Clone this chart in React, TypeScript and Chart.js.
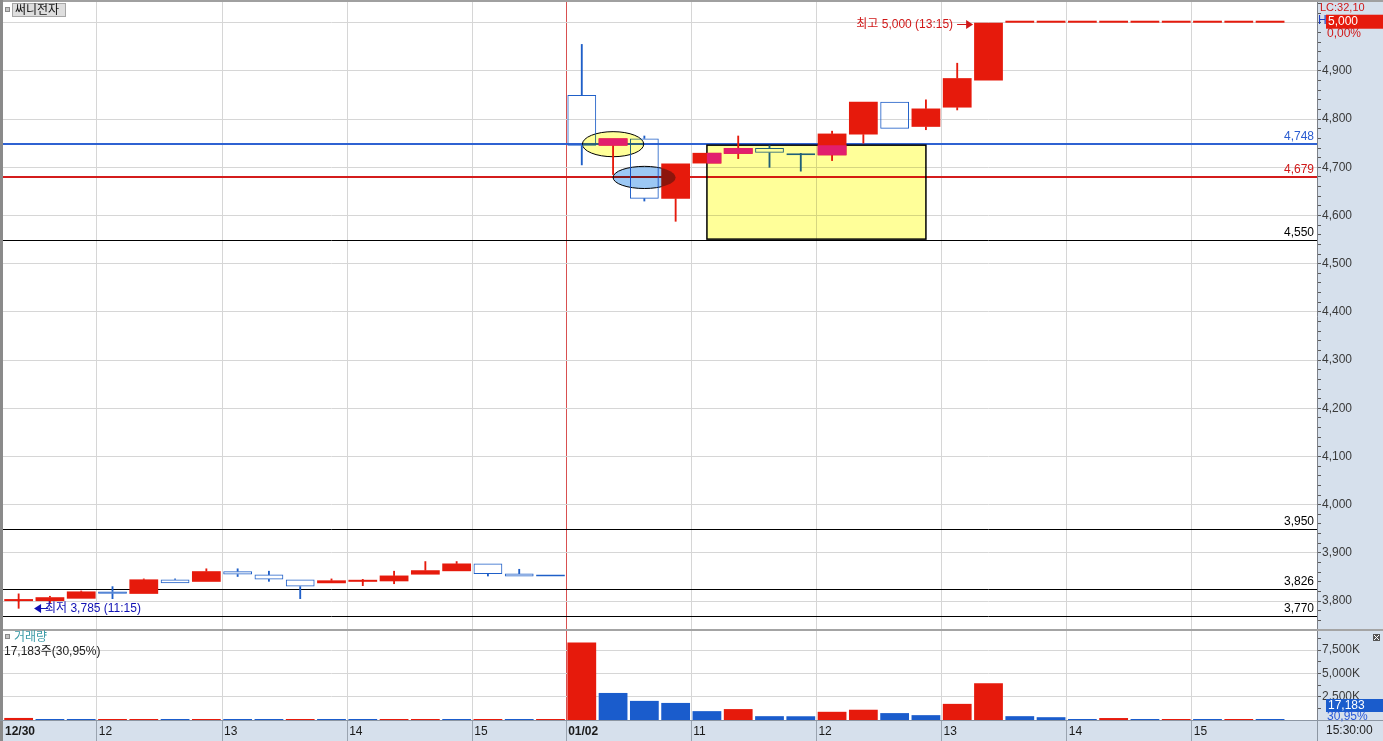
import React, { useEffect, useRef } from 'react';
import { Chart, registerables } from 'chart.js';

Chart.register(...registerables);

const W = 1383;
const H = 741;

// ---------- data ----------
const timeLabels = [
  '12/30 11:15', '12/30 11:30', '12/30 11:45', '12/30 12:00', '12/30 12:15', '12/30 12:30',
  '12/30 12:45', '12/30 13:00', '12/30 13:15', '12/30 13:30', '12/30 13:45', '12/30 14:00',
  '12/30 14:15', '12/30 14:30', '12/30 14:45', '12/30 15:00', '12/30 15:15', '12/30 15:30',
  '01/02 10:00', '01/02 10:15', '01/02 10:30', '01/02 10:45', '01/02 11:00', '01/02 11:15',
  '01/02 11:30', '01/02 11:45', '01/02 12:00', '01/02 12:15', '01/02 12:30', '01/02 12:45',
  '01/02 13:00', '01/02 13:15', '01/02 13:30', '01/02 13:45', '01/02 14:00', '01/02 14:15',
  '01/02 14:30', '01/02 14:45', '01/02 15:00', '01/02 15:15', '01/02 15:30', ' ',
];

const axisLabels = [
  '12/30', '', '', '12', '', '', '', '13', '', '', '', '14', '', '', '', '15', '', '',
  '01/02', '', '', '', '11', '', '', '', '12', '', '', '', '13', '', '', '', '14', '', '', '', '15', '', '', '',
];

const opens = [
  3800, 3800, 3805, 3820, 3815, 3845, 3840, 3862, 3855, 3845, 3837, 3840, 3841, 3855, 3862, 3878, 3857, 3851,
  4850, 4745, 4760, 4635, 4708, 4728, 4740, 4728, 4725, 4768, 4836, 4784, 4824, 4880,
  5000, 5000, 5000, 5000, 5000, 5000, 5000, 5000, 5000, null,
];
const highs = [
  3815, 3810, 3821, 3830, 3846, 3846, 3867, 3867, 3862, 3845, 3846, 3845, 3862, 3882, 3882, 3878, 3866, 3851,
  4955, 4760, 4765, 4708, 4730, 4765, 4745, 4729, 4775, 4836, 4836, 4840, 4916, 5000,
  5000, 5000, 5000, 5000, 5000, 5000, 5000, 5000, 5000, null,
];
const lows = [
  3785, 3795, 3805, 3805, 3815, 3837, 3840, 3851, 3841, 3805, 3837, 3832, 3836, 3855, 3862, 3852, 3851, 3851,
  4705, 4685, 4630, 4588, 4708, 4718, 4700, 4692, 4714, 4750, 4780, 4778, 4819, 4880,
  5000, 5000, 5000, 5000, 5000, 5000, 5000, 5000, 5000, null,
];
const closes = [
  3800, 3808, 3820, 3815, 3845, 3837, 3862, 3855, 3845, 3830, 3843, 3840, 3853, 3864, 3878, 3856, 3851, 3851,
  4745, 4760, 4635, 4708, 4730, 4740, 4730, 4725, 4770, 4836, 4780, 4822, 4885, 5000,
  5000, 5000, 5000, 5000, 5000, 5000, 5000, 5000, 5000, null,
];
// candle colour: u = red (rising), d = blue (falling)
const candleSides = [
  'u', 'u', 'u', 'd', 'u', 'd', 'u', 'd', 'd', 'd', 'u', 'u', 'u', 'u', 'u', 'd', 'd', 'd',
  'd', 'u', 'd', 'u', 'u', 'u', 'd', 'd', 'u', 'u', 'd', 'u', 'u', 'u',
  'u', 'u', 'u', 'u', 'u', 'u', 'u', 'u', 'u', '',
];

// volume in thousands of shares (K)
const volumes = [
  220, 60, 60, 60, 60, 60, 60, 60, 60, 60, 60, 50, 60, 60, 60, 60, 60, 60,
  8300, 2900, 2050, 1830, 950, 1170, 410, 400, 880, 1100, 740, 520, 1730, 3930,
  410, 300, 110, 210, 110, 110, 100, 110, 17.183, null,
];
const volumeSides = [
  'u', 'd', 'd', 'u', 'u', 'd', 'u', 'd', 'd', 'u', 'd', 'd', 'u', 'u', 'd', 'u', 'd', 'u',
  'u', 'd', 'd', 'd', 'd', 'u', 'd', 'd', 'u', 'u', 'd', 'd', 'u', 'u',
  'd', 'd', 'd', 'u', 'd', 'u', 'd', 'u', 'd', '',
];
const volumeTicks = [1250, 2500, 3750, 5000, 6250, 7500, 8750];
const volumeTickLabels = ['', '2,500K', '', '5,000K', '', '7,500K', ''];

const levelValues = [4748, 4679, 4550, 3950, 3826, 3770];
const levelLabels = ['4,748', '4,679', '4,550', '3,950', '3,826', '3,770'];
const levelKinds = ['blue', 'red', 'black', 'black', 'black', 'black'];

const priceMin = 3740;
const priceMax = 5043;
const volumeMax = 9650;

const boxNote = { fromIndex: 22, toIndex: 29, top: 4746, bottom: 4551 };
const yellowOval = { index: 19, value: 4748, halfSlots: 0.98, halfPrice: 26 };
const blueOval = { index: 20, value: 4679, halfSlots: 1.0, halfPrice: 23 };
const highNote = { index: 31, value: 5000, text: '최고 5,000 (13:15)' };
const lowNote = { index: 0, value: 3785, text: '최저 3,785 (11:15)' };

const stockName = '써니전자';
const volumeTitle = '거래량';
const volumeInfo = '17,183주(30,95%)';
const lastPriceText = '5,000';
const lastPriceValue = 5000;
const lcText = 'LC:32,10';
const changeText = '0,00%';
const lastVolumeText = '17,183';
const volumeRatioText = '30,95%';
const endTimeText = '15:30:00';

// ---------- styles ----------
const FONT = "'Liberation Sans', 'Noto Sans CJK KR', sans-serif";
const f = (size: number, weight = 'normal') => `${weight} ${size}px ${FONT}`;
const RED = '#e61a0c';
const CANDLE_BLUE = '#1f5fc8';
const VOL_BLUE = '#1a5ccc';
const PINK = '#e21e6e';
const AXIS_BG = '#d6e0ec';
const GRID = '#d6d6d6';
const LEVEL_COLORS: Record<string, string> = { blue: '#2f62d2', red: '#d41c1c', black: '#000000' };
const LEVEL_TEXT: Record<string, string> = { blue: '#2a5cd0', red: '#d01818', black: '#000000' };
const dayStartIndex = axisLabels.findIndex((l, i) => i > 0 && l.includes('/'));

// ---------- derived tables ----------
const bodyData = opens.map((o, i) => (o == null ? null : [o, closes[i] as number]));
const upperWick = opens.map((o, i) => {
  if (o == null) return null;
  const top = Math.max(o, closes[i] as number);
  return (highs[i] as number) > top ? [top, highs[i] as number] : null;
});
const lowerWick = opens.map((o, i) => {
  if (o == null) return null;
  const bot = Math.min(o, closes[i] as number);
  return (lows[i] as number) < bot ? [lows[i] as number, bot] : null;
});
const sideColor = (s: string) => (s === 'u' ? RED : CANDLE_BLUE);

function ovalPath(ctx: CanvasRenderingContext2D, chart: any, o: any) {
  const x = chart.scales.x, y = chart.scales.y;
  const cx = x.getPixelForValue(o.index);
  const slot = x.getPixelForValue(o.index + 1) - cx;
  const cy = y.getPixelForValue(o.value);
  const ry = Math.abs(y.getPixelForValue(o.value + o.halfPrice) - cy);
  ctx.ellipse(cx, cy, slot * o.halfSlots, ry, 0, 0, Math.PI * 2);
}
function boxRect(chart: any) {
  const x = chart.scales.x, y = chart.scales.y;
  const x1 = x.getPixelForValue(boxNote.fromIndex);
  const x2 = x.getPixelForValue(boxNote.toIndex);
  const y1 = y.getPixelForValue(boxNote.top);
  const y2 = y.getPixelForValue(boxNote.bottom);
  return { x: x1, y: y1, w: x2 - x1, h: y2 - y1 };
}

const overlay = {
  id: 'overlay',
  beforeDraw(chart: any) {
    const { ctx, chartArea: a } = chart;
    ctx.save();
    ctx.fillStyle = '#ffffff';
    ctx.fillRect(0, 0, W, H);
    ctx.fillStyle = AXIS_BG;
    ctx.fillRect(a.right, 0, W - a.right, H);
    ctx.fillRect(0, a.bottom, W, H - a.bottom);
    ctx.restore();
  },
  beforeDatasetsDraw(chart: any) {
    const { ctx, chartArea: a } = chart;
    const y = chart.scales.y;
    ctx.save();
    ctx.beginPath();
    ctx.rect(a.left, y.top, a.right - a.left, y.bottom - y.top);
    ctx.clip();
    levelValues.forEach((v, i) => {
      const py = Math.round(y.getPixelForValue(v));
      const kind = levelKinds[i];
      const lw = kind === 'black' ? 1 : 2;
      ctx.strokeStyle = LEVEL_COLORS[kind];
      ctx.lineWidth = lw;
      ctx.beginPath();
      const yy = lw === 1 ? py + 0.5 : py;
      ctx.moveTo(a.left, yy);
      ctx.lineTo(a.right, yy);
      ctx.stroke();
      ctx.fillStyle = LEVEL_TEXT[kind];
      ctx.font = f(12);
      ctx.textAlign = 'right';
      ctx.textBaseline = 'bottom';
      ctx.fillText(levelLabels[i], a.right - 3, py - 1);
    });
    ctx.strokeStyle = '#000';
    const r = boxRect(chart);
    ctx.lineWidth = 1.5;
    ctx.strokeRect(r.x, r.y, r.w, r.h);
    ctx.lineWidth = 1;
    ctx.beginPath(); ovalPath(ctx, chart, yellowOval); ctx.stroke();
    ctx.beginPath(); ovalPath(ctx, chart, blueOval); ctx.stroke();
    ctx.restore();
  },
  afterDatasetsDraw(chart: any) {
    const { ctx } = chart;
    const r = boxRect(chart);
    ctx.save();
    ctx.globalCompositeOperation = 'multiply';
    ctx.fillStyle = '#ffff99';
    ctx.fillRect(r.x, r.y, r.w, r.h);
    ctx.beginPath(); ovalPath(ctx, chart, yellowOval); ctx.fill();
    ctx.fillStyle = '#9cc8f4';
    ctx.beginPath(); ovalPath(ctx, chart, blueOval); ctx.fill();
    ctx.restore();
    // red bodies seen inside the yellow marks turn pink
    const meta = chart.getDatasetMeta(0);
    ctx.save();
    ctx.beginPath();
    ctx.rect(r.x, r.y, r.w, r.h);
    ovalPath(ctx, chart, yellowOval);
    ctx.clip();
    ctx.fillStyle = PINK;
    meta.data.forEach((el: any, i: number) => {
      if (candleSides[i] !== 'u' || bodyData[i] == null) return;
      const p = el.getProps(['x', 'y', 'base', 'width'], true);
      const top = Math.min(p.y, p.base);
      const h = Math.abs(p.base - p.y);
      ctx.fillRect(p.x - p.width / 2, top, p.width, h);
    });
    ctx.restore();
  },
  afterDraw(chart: any) {
    const { ctx, chartArea: a } = chart;
    const y = chart.scales.y, v = chart.scales.yv;
    ctx.save();
    // pane separator
    ctx.fillStyle = '#a4a4a4';
    ctx.fillRect(0, Math.round(v.top) - 1, W, 2);
    // frame
    ctx.fillStyle = '#a0a0a0';
    ctx.fillRect(0, 0, W, 2);
    ctx.fillStyle = '#8a8a8a';
    ctx.fillRect(0, 0, 3, H);
    ctx.fillStyle = '#8c96a2';
    ctx.fillRect(a.right, a.bottom, 1, H - a.bottom);
    ctx.fillRect(0, a.bottom, W, 1);

    // title box
    ctx.fillStyle = '#c4c4c4';
    ctx.fillRect(5, 7, 5, 5);
    ctx.strokeStyle = '#8a8a8a';
    ctx.lineWidth = 1;
    ctx.strokeRect(5.5, 7.5, 4, 4);
    ctx.fillStyle = '#dedede';
    ctx.fillRect(12, 3, 54, 14);
    ctx.strokeStyle = '#a6a6a6';
    ctx.strokeRect(12.5, 3.5, 53, 13);
    ctx.fillStyle = '#111';
    ctx.font = f(12);
    ctx.textAlign = 'left';
    ctx.textBaseline = 'middle';
    ctx.fillText(stockName, 15, 10.5);

    // volume pane titles
    const vt = v.top;
    ctx.fillStyle = '#c4c4c4';
    ctx.fillRect(5, vt + 4, 5, 5);
    ctx.strokeStyle = '#8a8a8a';
    ctx.strokeRect(5.5, vt + 4.5, 4, 4);
    ctx.fillStyle = '#3a9aa6';
    ctx.fillText(volumeTitle, 14, vt + 8);
    ctx.fillStyle = '#222';
    ctx.fillText(volumeInfo, 4, vt + 22);

    // right axis boxes (price)
    ctx.font = f(11);
    ctx.fillStyle = '#d01818';
    ctx.fillText(lcText, a.right + 3, 8);
    ctx.fillStyle = '#2040c0';
    ctx.font = f(12);
    ctx.fillText('H', a.right + 1, 21);
    const lp = y.getPixelForValue(lastPriceValue);
    ctx.fillStyle = '#e61a0c';
    ctx.fillRect(a.right + 9, lp - 8, W - a.right - 9, 14);
    ctx.fillStyle = '#ffffff';
    ctx.fillText(lastPriceText, a.right + 11, lp - 1);
    ctx.fillStyle = '#d01818';
    ctx.fillText(changeText, a.right + 10, lp + 11);

    // right axis boxes (volume)
    ctx.fillStyle = '#1a5ccc';
    ctx.fillRect(a.right + 9, v.bottom - 21, W - a.right - 9, 13);
    ctx.fillStyle = '#ffffff';
    ctx.fillText(lastVolumeText, a.right + 11, v.bottom - 14.5);
    ctx.fillStyle = '#2a5ad8';
    ctx.fillText(volumeRatioText, a.right + 10, v.bottom - 3);
    // little close box
    ctx.fillStyle = '#555';
    ctx.fillRect(W - 10, vt + 4, 7, 7);
    ctx.strokeStyle = '#fff';
    ctx.beginPath();
    ctx.moveTo(W - 9, vt + 5); ctx.lineTo(W - 4, vt + 10);
    ctx.moveTo(W - 4, vt + 5); ctx.lineTo(W - 9, vt + 10);
    ctx.stroke();

    // time of the last bar
    ctx.fillStyle = '#222';
    ctx.fillText(endTimeText, a.right + 9, a.bottom + 11);

    // high / low notes
    const meta = chart.getDatasetMeta(0);
    const hi = meta.data[highNote.index].getProps(['x', 'width'], true);
    const hx = hi.x - hi.width / 2;
    const hy = Math.round(y.getPixelForValue(highNote.value)) + 1;
    ctx.strokeStyle = '#d01818';
    ctx.fillStyle = '#d01818';
    ctx.lineWidth = 1;
    ctx.beginPath();
    ctx.moveTo(hx - 17, hy + 0.5); ctx.lineTo(hx - 6, hy + 0.5); ctx.stroke();
    ctx.beginPath();
    ctx.moveTo(hx - 1, hy + 0.5); ctx.lineTo(hx - 8, hy - 4); ctx.lineTo(hx - 8, hy + 5); ctx.closePath(); ctx.fill();
    ctx.textAlign = 'right';
    ctx.fillText(highNote.text, hx - 21, hy + 1);

    const lo = meta.data[lowNote.index].getProps(['x', 'width'], true);
    const lx = lo.x + lo.width / 2 + 1;
    const ly = Math.round(y.getPixelForValue(lowNote.value));
    ctx.strokeStyle = '#1010b4';
    ctx.fillStyle = '#1010b4';
    ctx.beginPath();
    ctx.moveTo(lx + 5, ly + 0.5); ctx.lineTo(lx + 14, ly + 0.5); ctx.stroke();
    ctx.beginPath();
    ctx.moveTo(lx, ly + 0.5); ctx.lineTo(lx + 7, ly - 4); ctx.lineTo(lx + 7, ly + 5); ctx.closePath(); ctx.fill();
    ctx.textAlign = 'left';
    ctx.fillText(lowNote.text, lx + 11, ly + 1);
    ctx.restore();
  },
};

function makeConfig(): any {
  return {
    type: 'bar',
    data: {
      labels: timeLabels,
      datasets: [
        {
          label: 'body',
          data: bodyData,
          yAxisID: 'y',
          grouped: false,
          order: 0,
          backgroundColor: candleSides.map((s) => (s === 'u' ? RED : 'rgba(0,0,0,0)')),
          borderColor: candleSides.map(sideColor),
          borderWidth: candleSides.map((s) => (s === 'u' ? 0 : 1)),
          borderSkipped: false,
          minBarLength: 2,
          barPercentage: 0.92,
          categoryPercentage: 1,
        },
        {
          label: 'upper wick',
          data: upperWick,
          yAxisID: 'y',
          grouped: false,
          order: 1,
          backgroundColor: candleSides.map(sideColor),
          borderWidth: 0,
          barThickness: 1.2,
        },
        {
          label: 'lower wick',
          data: lowerWick,
          yAxisID: 'y',
          grouped: false,
          order: 1,
          backgroundColor: candleSides.map(sideColor),
          borderWidth: 0,
          barThickness: 1.2,
        },
        {
          label: 'volume',
          data: volumes,
          yAxisID: 'yv',
          grouped: false,
          order: 2,
          backgroundColor: volumeSides.map((s) => (s === 'u' ? RED : VOL_BLUE)),
          borderWidth: 0,
          minBarLength: 1,
          barPercentage: 0.92,
          categoryPercentage: 1,
        },
      ],
    },
    options: {
      responsive: false,
      animation: false,
      devicePixelRatio: 1,
      events: [],
      layout: { padding: { left: 3, top: 2, right: 0, bottom: 0 } },
      plugins: { legend: { display: false }, tooltip: { enabled: false } },
      font: { family: FONT, size: 12 },
      scales: {
        x: {
          type: 'category',
          offset: true,
          grid: {
            offset: true,
            drawTicks: true,
            tickLength: 21,
            color: (c: any) =>
              c.index === dayStartIndex ? '#d85050' : c.index > 0 && axisLabels[c.index] ? GRID : 'rgba(0,0,0,0)',
            tickColor: (c: any) => (c.index > 0 && axisLabels[c.index] ? '#9aa4b0' : 'rgba(0,0,0,0)'),
          },
          border: { display: true, color: '#8c96a2' },
          ticks: {
            autoSkip: false,
            maxRotation: 0,
            minRotation: 0,
            align: 'start',
            padding: -17,
            color: '#1a1a1a',
            labelOffset: (c: any) => -(c.scale.width / timeLabels.length) / 2 + 2,
            font: (c: any) => ({
              family: FONT,
              size: 12,
              weight: axisLabels[c.index] && axisLabels[c.index].includes('/') ? 'bold' : 'normal',
            }),
            callback: (_v: any, i: number) => axisLabels[i],
          },
          afterFit: (s: any) => {
            s.height = 21;
            s.paddingLeft = 0;
            s.paddingRight = 0;
          },
        },
        y: {
          type: 'linear',
          position: 'right',
          stack: 'panes',
          stackWeight: 628,
          min: priceMin,
          max: priceMax,
          grid: {
            color: (c: any) => (c.tick && Math.round(c.tick.value) % 100 === 0 ? GRID : 'rgba(0,0,0,0)'),
            tickColor: '#5a5a5a',
            tickLength: 4,
          },
          border: { display: true, color: '#7c8088' },
          ticks: {
            stepSize: 20,
            includeBounds: false,
            padding: 1,
            color: '#3a3a3a',
            font: { family: FONT, size: 12 },
            autoSkip: false,
            callback: (v: number) => {
              const n = Math.round(v);
              if (n % 100 !== 0 || n === lastPriceValue) return '';
              return n.toLocaleString('en-US');
            },
          },
          afterFit: (s: any) => {
            s.width = 66;
            s.paddingTop = 0;
            s.paddingBottom = 0;
          },
        },
        yv: {
          type: 'linear',
          position: 'right',
          stack: 'panes',
          stackWeight: 90,
          min: 0,
          max: volumeMax,
          afterBuildTicks: (s: any) => {
            s.ticks = volumeTicks.map((value) => ({ value }));
          },
          grid: {
            color: (c: any) => (c.tick && volumeTickLabels[volumeTicks.indexOf(c.tick.value)] ? GRID : 'rgba(0,0,0,0)'),
            tickColor: '#5a5a5a',
            tickLength: 4,
          },
          border: { display: true, color: '#7c8088' },
          ticks: {
            padding: 1,
            color: '#3a3a3a',
            font: { family: FONT, size: 12 },
            autoSkip: false,
            callback: (v: number) => {
              const k = volumeTicks.indexOf(v);
              return k >= 0 ? volumeTickLabels[k] : '';
            },
          },
          afterFit: (s: any) => {
            s.width = 66;
            s.paddingTop = 0;
            s.paddingBottom = 0;
          },
        },
      },
    },
    plugins: [overlay],
  };
}

export default function App() {
  const ref = useRef<HTMLCanvasElement>(null);
  useEffect(() => {
    document.body.style.margin = '0';
    const canvas = ref.current;
    if (!canvas) return;
    const chart = new Chart(canvas, makeConfig());
    return () => chart.destroy();
  }, []);
  return (
    <div style={{ width: W, height: H, overflow: 'hidden' }}>
      <canvas ref={ref} width={W} height={H} style={{ display: 'block', width: W, height: H }} />
    </div>
  );
}
